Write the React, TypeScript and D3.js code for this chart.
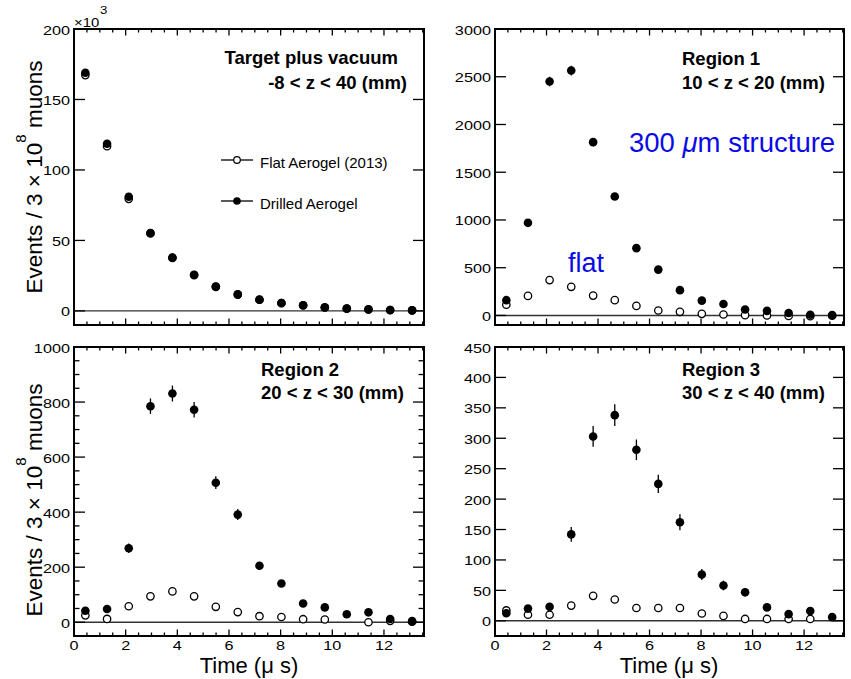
import * as d3 from 'd3';

// bin centres (µs), 16 bins
const TIME_US = [0.44, 1.28, 2.12, 2.96, 3.81, 4.65, 5.49, 6.34, 7.18, 8.03, 8.87, 9.71, 10.56, 11.4, 12.24, 13.09];

// Target plus vacuum (x10^3)
const TARGET_FLAT = [167.3, 116.9, 79.5, 55.0, 37.6, 25.4, 17.1, 11.6, 7.9, 5.5, 3.9, 2.4, 1.6, 1.0, 0.6, 0.4];
const TARGET_DRILLED = [169.0, 118.6, 81.0, 55.3, 37.9, 25.6, 17.3, 11.7, 8.0, 5.6, 4.0, 2.5, 1.7, 1.1, 0.6, 0.4];
const TARGET_DRILLED_ERR = [0.4, 0.35, 0.3, 0.25, 0.2, 0.16, 0.13, 0.1, 0.09, 0.07, 0.06, 0.05, 0.04, 0.03, 0.02, 0.02];

// Region 1
const R1_FLAT = [112, 205, 370, 300, 208, 160, 100, 52, 38, 17, 10, 3, 0, -6, -8, -2];
const R1_DRILLED = [160, 970, 2450, 2565, 1815, 1245, 705, 480, 265, 155, 120, 62, 48, 25, 8, 4];
const R1_DRILLED_ERR = [13, 31, 50, 51, 43, 35, 27, 22, 16, 12, 11, 8, 7, 5, 3, 2];

// Region 2
const R2_FLAT: (number | null)[] = [25, 12, 58, 94, 112, 94, 56, 37, 22, 19, 11, 10, null, 0, 5, 2];
const R2_DRILLED = [42, 48, 269, 785, 831, 772, 507, 391, 205, 141, 68, 54, 29, 36, 12, 4];
const R2_DRILLED_ERR = [7, 7, 17, 28, 29, 28, 23, 20, 14, 12, 8, 7, 5, 6, 3, 2];

// Region 3
const R3_FLAT: (number | null)[] = [17, 10, 10, 25, 41, 35, 21, 21, 21, 12, 8, 3, 3, 3, 3, null];
const R3_DRILLED = [12.5, 20, 23, 142, 303, 338, 281, 225, 162, 76, 58, 47, 22, 11, 16, 6];
const R3_DRILLED_ERR = [4, 4, 5, 12, 17, 18, 17, 15, 13, 9, 8, 7, 5, 3, 4, 3];

const LEGEND_LABELS = ['Flat Aerogel (2013)', 'Drilled Aerogel'];

const FONT = '"Liberation Sans", Arial, Helvetica, sans-serif';
const X_DOMAIN: [number, number] = [0, 13.55];
const COLS = [[74, 424], [495, 844]];
const ROWS = [[29, 325], [347, 636]];

type PanelProps = {
  col: number;
  row: number;
  yDomain: [number, number];
  yStep: number;
  yMinor?: number;
  flat: (number | null)[];
  drilled: number[];
  err: number[];
  xLabels: boolean;
};

// ROOT's axis labels are wider than plain Helvetica, so stretch horizontally
function SText({ x, y, size, anchor = 'start', sx = 1.3, children }: any) {
  return (
    <text transform={`translate(${x},${y}) scale(${sx},1)`} fontSize={size} textAnchor={anchor} fontFamily={FONT} fill="#000">
      {children}
    </text>
  );
}

function Panel({ col, row, yDomain, yStep, yMinor, flat, drilled, err, xLabels }: PanelProps) {
  const [x0, x1] = COLS[col];
  const [y0, y1] = ROWS[row];
  const x = d3.scaleLinear().domain(X_DOMAIN).range([x0, x1]);
  const y = d3.scaleLinear().domain(yDomain).range([y1, y0]);

  const yMajor = d3.range(0, yDomain[1] + 1e-6, yStep);
  const yMinorTicks = yMinor ? d3.range(yMinor, yDomain[1], yMinor).filter(v => Math.abs(v / yStep - Math.round(v / yStep)) > 1e-6) : [];
  const xTicks = d3.range(0.5, X_DOMAIN[1], 0.5);

  return (
    <g>
      <line x1={x0} x2={x1} y1={y(0)} y2={y(0)} stroke="#333" strokeWidth={1.4} />
      {yMajor.map(v => (
        <g key={'ym' + v}>
          <line x1={x0} x2={x0 + 11} y1={y(v)} y2={y(v)} stroke="#000" strokeWidth={1.3} />
          <line x1={x1} x2={x1 - 11} y1={y(v)} y2={y(v)} stroke="#000" strokeWidth={1.3} />
          <SText x={x0 - 4} y={y(v) + 5.5} size={12.5} anchor="end">{d3.format('d')(v)}</SText>
        </g>
      ))}
      {yMinorTicks.map(v => (
        <g key={'yn' + v}>
          <line x1={x0} x2={x0 + 5.5} y1={y(v)} y2={y(v)} stroke="#000" strokeWidth={1.3} />
          <line x1={x1} x2={x1 - 5.5} y1={y(v)} y2={y(v)} stroke="#000" strokeWidth={1.3} />
        </g>
      ))}
      {xTicks.map(v => {
        const major = Math.abs(v % 2) < 1e-6;
        const len = major ? 6.5 : 3.5;
        return (
          <g key={'x' + v}>
            <line x1={x(v)} x2={x(v)} y1={y1} y2={y1 - len} stroke="#000" strokeWidth={1.3} />
            <line x1={x(v)} x2={x(v)} y1={y0} y2={y0 + len} stroke="#000" strokeWidth={1.3} />
          </g>
        );
      })}
      {xLabels && d3.range(0, 13, 2).map(v => (
        <SText key={'xl' + v} x={x(v)} y={y1 + 13.5} size={12.5} anchor="middle">{v}</SText>
      ))}
      {flat.map((v, i) => v === null ? null : (
        <circle key={'f' + i} cx={x(TIME_US[i])} cy={y(v)} r={3.7} fill="#fff" stroke="#000" strokeWidth={1.3} />
      ))}
      {drilled.map((v, i) => (
        <g key={'d' + i}>
          <line x1={x(TIME_US[i])} x2={x(TIME_US[i])} y1={y(v - err[i])} y2={y(v + err[i])} stroke="#000" strokeWidth={1.3} />
          <circle cx={x(TIME_US[i])} cy={y(v)} r={4.3} fill="#000" />
        </g>
      ))}
      <rect x={x0} y={y0} width={x1 - x0} height={y1 - y0} fill="none" stroke="#000" strokeWidth={2} />
    </g>
  );
}

function YTitle({ cy }: { cy: number }) {
  return (
    <text transform={`translate(42,${cy}) rotate(-90)`} textAnchor="middle" fontFamily={FONT} fontSize={22.5} fill="#000">
      Events / 3 × 10<tspan dy={-16} fontSize={15}>8</tspan><tspan dy={16}>  muons</tspan>
    </text>
  );
}

export default function App() {
  return (
    <svg width={851} height={679} style={{ position: 'absolute', left: 0, top: 0, background: '#fff' }}>
      <rect width={851} height={679} fill="#fff" />
      <Panel col={0} row={0} yDomain={[-10, 200]} yStep={50} flat={TARGET_FLAT} drilled={TARGET_DRILLED} err={TARGET_DRILLED_ERR} xLabels={false} />
      <Panel col={1} row={0} yDomain={[-100, 3000]} yStep={500} flat={R1_FLAT} drilled={R1_DRILLED} err={R1_DRILLED_ERR} xLabels={false} />
      <Panel col={0} row={1} yDomain={[-50, 1000]} yStep={200} yMinor={50} flat={R2_FLAT} drilled={R2_DRILLED} err={R2_DRILLED_ERR} xLabels={true} />
      <Panel col={1} row={1} yDomain={[-25, 450]} yStep={50} flat={R3_FLAT} drilled={R3_DRILLED} err={R3_DRILLED_ERR} xLabels={true} />

      <SText x={74} y={27} size={13} sx={1.15}>×10</SText>
      <SText x={100} y={14} size={11.5} sx={1.15}>3</SText>

      <YTitle cy={177} />
      <YTitle cy={500} />

      <text x={249} y={673} textAnchor="middle" fontFamily={FONT} fontSize={22}>Time (μ s)</text>
      <text x={669} y={673} textAnchor="middle" fontFamily={FONT} fontSize={22}>Time (μ s)</text>

      <g fontFamily={FONT} fontWeight="bold" fontSize={18.5}>
        <text x={398} y={64} textAnchor="end">Target plus vacuum</text>
        <text x={407} y={89} textAnchor="end">-8 &lt; z &lt; 40 (mm)</text>
        <text x={682} y={65}>Region 1</text>
        <text x={682} y={89}>10 &lt; z &lt; 20 (mm)</text>
        <text x={261} y={376}>Region 2</text>
        <text x={261} y={399}>20 &lt; z &lt; 30 (mm)</text>
        <text x={682} y={376}>Region 3</text>
        <text x={682} y={399}>30 &lt; z &lt; 40 (mm)</text>
      </g>

      <text x={629} y={152} fontFamily={FONT} fontSize={27.5} fill="#0a0ae6">
        300 <tspan fontStyle="italic">μ</tspan>m structure
      </text>
      <text x={568} y={272} fontFamily={FONT} fontSize={27} fill="#0a0ae6">flat</text>

      {LEGEND_LABELS.map((label, i) => {
        const ly = i === 0 ? 160 : 201;
        return (
          <g key={label}>
            <line x1={221} x2={253} y1={ly} y2={ly} stroke="#000" strokeWidth={1.3} />
            {i === 0
              ? <circle cx={237} cy={ly} r={3.3} fill="#fff" stroke="#000" strokeWidth={1.2} />
              : <circle cx={237} cy={ly} r={3.8} fill="#000" />}
            <text x={260} y={ly + 8} fontFamily={FONT} fontSize={15}>{label}</text>
          </g>
        );
      })}
    </svg>
  );
}
